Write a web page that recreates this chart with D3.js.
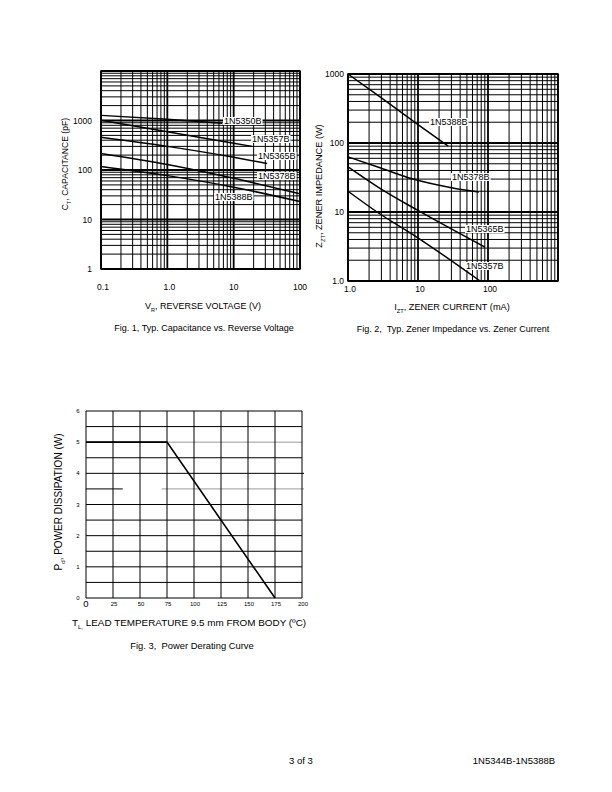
<!DOCTYPE html>
<html><head><meta charset="utf-8">
<script src="https://cdn.jsdelivr.net/npm/d3@7"></script>
<style>
html,body{margin:0;padding:0;background:#fff;}
svg{display:block;font-family:"Liberation Sans",Arial,sans-serif;}
text{white-space:pre;}
</style></head>
<body>
<script>
// ---------- Fig 1 data: capacitance (pF) vs reverse voltage (V)
const fig1XTicks = [0.1, 1, 10, 100];
const fig1XTickLabels = ["0.1", "1.0", "10", "100"];
const fig1YTicks = [1, 10, 100, 1000];
const fig1YTickLabels = ["1", "10", "100", "1000"];
const fig1Names = ["1N5350B", "1N5357B", "1N5365B", "1N5378B", "1N5388B"];
const cap1N5350B = [[0.1, 1270], [1, 1060], [6.7, 880]];
const cap1N5357B = [[0.1, 1010], [1, 594], [10, 347], [19, 300]];
const cap1N5365B = [[0.1, 457], [1, 300], [10, 181], [32, 135]];
const cap1N5378B = [[0.1, 216], [1, 129], [10, 68], [100, 33]];
const cap1N5388B = [[0.1, 118], [1, 77], [10, 45], [100, 23]];

// ---------- Fig 2 data: zener impedance (ohm) vs zener current (mA)
const fig2XTicks = [1, 10, 100];
const fig2XTickLabels = ["1.0", "10", "100"];
const fig2YTicks = [1, 10, 100, 1000];
const fig2YTickLabels = ["1.0", "10", "100", "1000"];
const fig2Names = ["1N5388B", "1N5378B", "1N5365B", "1N5357B"];
const z1N5388B = [[1, 1000], [3, 450], [10, 185], [27, 90]];
const z1N5378B = [[1, 63], [3, 43], [8.5, 30], [30, 22.5], [74, 19.5]];
const z1N5365B = [[1, 45], [2.86, 22], [9.7, 10.7], [90, 3.1]];
const z1N5357B = [[1, 20], [2.6, 10], [9.7, 4.3], [77, 1.0]];

// ---------- Fig 3 data: power derating
const fig3XTicks = [0, 25, 50, 75, 100, 125, 150, 175, 200];
const fig3YTicks = [0, 1, 2, 3, 4, 5, 6];
const deratingTemp = [0, 75, 175];
const deratingPower = [5, 5, 0];

const W = 612, H = 792;
const svg = d3.select("body").append("svg").attr("width", W).attr("height", H);

function gridLines(g, xs, ys, xVals, yVals, isDecadeX, isDecadeY) {
  const [x0, x1] = xs.range(), [y0, y1] = ys.range();
  xVals.forEach(v => {
    g.append("line").attr("x1", xs(v)).attr("x2", xs(v)).attr("y1", y0).attr("y2", y1)
      .attr("stroke", "#000").attr("stroke-width", isDecadeX(v) ? 1.8 : 1);
  });
  yVals.forEach(v => {
    g.append("line").attr("x1", x0).attr("x2", x1).attr("y1", ys(v)).attr("y2", ys(v))
      .attr("stroke", "#000").attr("stroke-width", isDecadeY(v) ? 1.8 : 1);
  });
}
const isDec = v => Math.abs(Math.log10(v) - Math.round(Math.log10(v))) < 1e-9;

function curve(g, xs, ys, pts) {
  const line = d3.line().x(d => xs(d[0])).y(d => ys(d[1])).curve(d3.curveMonotoneX);
  g.append("path").attr("d", line(pts)).attr("fill", "none")
    .attr("stroke", "#000").attr("stroke-width", 1.5);
}

function label(g, text, x, y, fs) {
  const t = g.append("text").attr("x", x).attr("y", y).attr("font-size", fs)
    .attr("dominant-baseline", "central").text(text);
  const bb = t.node().getBBox();
  g.insert("rect", () => t.node()).attr("x", bb.x - 1).attr("y", bb.y + 1)
    .attr("width", bb.width + 2).attr("height", bb.height - 2).attr("fill", "#fff");
}

function subText(g, x, y, main, sub, rest, fs, rotate) {
  const t = g.append("text").attr("font-size", fs).attr("text-anchor", "middle");
  if (rotate) t.attr("transform", `translate(${x},${y}) rotate(-90)`);
  else t.attr("x", x).attr("y", y);
  t.append("tspan").text(main);
  t.append("tspan").attr("font-size", fs * 0.62).attr("dy", fs * 0.3).text(sub);
  t.append("tspan").attr("dy", -fs * 0.3).text(rest);
  return t;
}

// =============== Fig 1 =================
{
  const g = svg.append("g");
  const x = d3.scaleLog().domain([0.1, 100]).range([101, 300]);
  const y = d3.scaleLog().domain([1, 10000]).range([269, 71]);
  gridLines(g, x, y, x.ticks(), y.ticks(), isDec, isDec);
  g.append("rect").attr("x", 101).attr("y", 71).attr("width", 199).attr("height", 198)
    .attr("fill", "none").attr("stroke", "#000").attr("stroke-width", 1.5);
  [cap1N5350B, cap1N5357B, cap1N5365B, cap1N5378B, cap1N5388B].forEach(c => curve(g, x, y, c));
  const lp = [[224, 121], [252, 139], [258, 156], [258, 176], [215, 197]];
  fig1Names.forEach((n, i) => label(g, n, lp[i][0], lp[i][1], 9));
  const xoff = [2, 2, 0, 0];
  fig1XTicks.forEach((v, i) => g.append("text").attr("x", x(v) + xoff[i]).attr("y", 290)
    .attr("font-size", 8.5).attr("text-anchor", "middle").text(fig1XTickLabels[i]));
  fig1YTicks.forEach((v, i) => g.append("text").attr("x", 92).attr("y", y(v) + 3)
    .attr("font-size", 8.5).attr("text-anchor", "end").text(fig1YTickLabels[i]));
  subText(g, 203, 309, "V", "R", ", REVERSE VOLTAGE (V)", 9, false);
  subText(g, 68, 164, "C", "T", ", CAPACITANCE (pF)", 8.6, true);
  g.append("text").attr("x", 204).attr("y", 331).attr("font-size", 9).attr("text-anchor", "middle")
    .text("Fig. 1, Typ. Capacitance vs. Reverse Voltage");
}

// =============== Fig 2 =================
{
  const g = svg.append("g");
  const x = d3.scaleLog().domain([1, 1000]).range([348, 558]);
  const y = d3.scaleLog().domain([1, 1000]).range([281, 74]);
  gridLines(g, x, y, x.ticks(), y.ticks(), isDec, isDec);
  g.append("rect").attr("x", 348).attr("y", 74).attr("width", 210).attr("height", 207)
    .attr("fill", "none").attr("stroke", "#000").attr("stroke-width", 1.5);
  [z1N5388B, z1N5378B, z1N5365B, z1N5357B].forEach(c => curve(g, x, y, c));
  const lp = [[430, 122], [452, 177], [466, 229], [466, 266]];
  fig2Names.forEach((n, i) => label(g, n, lp[i][0], lp[i][1], 9));
  fig2XTicks.forEach((v, i) => g.append("text").attr("x", x(v) + 2).attr("y", 292)
    .attr("font-size", 8.5).attr("text-anchor", "middle").text(fig2XTickLabels[i]));
  fig2YTicks.forEach((v, i) => g.append("text").attr("x", 344).attr("y", y(v) + 3)
    .attr("font-size", 8.5).attr("text-anchor", "end").text(fig2YTickLabels[i]));
  subText(g, 452, 310, "I", "ZT", ", ZENER CURRENT (mA)", 9.2, false);
  subText(g, 322, 186, "Z", "ZT", ", ZENER IMPEDANCE (W)", 9.2, true);
  g.append("text").attr("x", 453).attr("y", 332).attr("font-size", 9).attr("text-anchor", "middle")
    .text("Fig. 2,  Typ. Zener Impedance vs. Zener Current");
}

// =============== Fig 3 =================
{
  const g = svg.append("g");
  const x = d3.scaleLinear().domain([0, 200]).range([86, 302]);
  const y = d3.scaleLinear().domain([0, 6]).range([598, 411]);
  d3.range(0, 6.01, 0.5).forEach(v => {
    if (v === 5) {
      g.append("line").attr("x1", 86).attr("x2", x(75)).attr("y1", y(v)).attr("y2", y(v)).attr("stroke", "#000");
      g.append("line").attr("x1", x(75)).attr("x2", 302).attr("y1", y(v)).attr("y2", y(v)).attr("stroke", "#999");
    } else if (v === 3.5) {
      g.append("line").attr("x1", 86).attr("x2", x(34)).attr("y1", y(v)).attr("y2", y(v)).attr("stroke", "#000");
      g.append("line").attr("x1", x(70)).attr("x2", 304).attr("y1", y(v)).attr("y2", y(v)).attr("stroke", "#999");
    } else {
      g.append("line").attr("x1", 86).attr("x2", v === 4 ? 304 : 302)
        .attr("y1", y(v)).attr("y2", y(v)).attr("stroke", "#000").attr("stroke-width", 1);
    }
  });
  fig3XTicks.forEach(v => g.append("line").attr("x1", x(v)).attr("x2", x(v)).attr("y1", 411).attr("y2", 598)
    .attr("stroke", "#000").attr("stroke-width", 1));
  const line = d3.line().x((d, i) => x(deratingTemp[i])).y((d, i) => y(deratingPower[i]));
  g.append("path").attr("d", line(deratingTemp)).attr("fill", "none").attr("stroke", "#000").attr("stroke-width", 1.6);
  fig3XTicks.forEach(v => g.append("text").attr("x", x(v) + (v === 0 ? 0 : 1)).attr("y", v === 0 ? 607 : 606)
    .attr("font-size", v === 0 ? 9.5 : 6).attr("text-anchor", "middle").text(v));
  fig3YTicks.forEach(v => g.append("text").attr("x", 78).attr("y", y(v) + 2)
    .attr("font-size", 6).attr("text-anchor", "middle").text(v));
  subText(g, 189, 626, "T", "L,", " LEAD TEMPERATURE 9.5 mm FROM BODY (ºC)", 9.9, false);
  subText(g, 62, 502, "P", "d", ", POWER DISSIPATION (W)", 10, true);
  g.append("text").attr("x", 192).attr("y", 649).attr("font-size", 9.4).attr("text-anchor", "middle")
    .text("Fig. 3,  Power Derating Curve");
}

// footer
svg.append("text").attr("x", 301).attr("y", 764).attr("font-size", 9.5).attr("text-anchor", "middle").text("3 of 3");
svg.append("text").attr("x", 514).attr("y", 764).attr("font-size", 9.5).attr("text-anchor", "middle").text("1N5344B-1N5388B");
</script>
</body></html>
